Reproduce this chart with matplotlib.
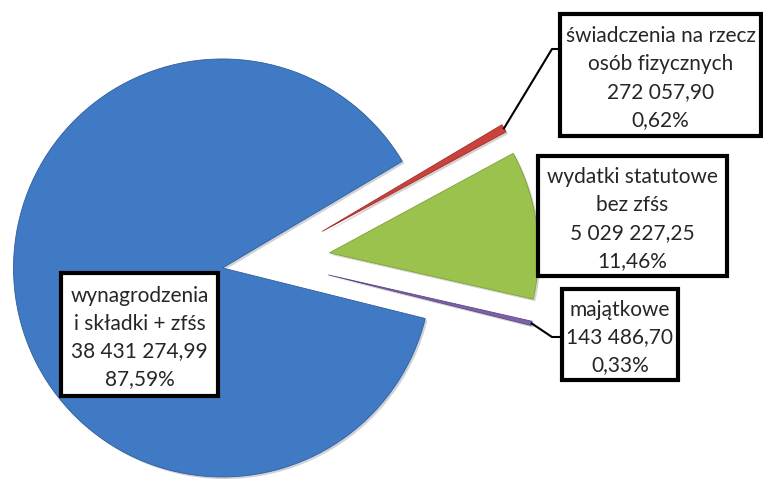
import math
import matplotlib
matplotlib.use("Agg")
import matplotlib.pyplot as plt
import matplotlib.patheffects as pe
from matplotlib.patches import Rectangle

# ── dane ─────────────────────────────────────────────────────────────────────
categories = ["majątkowe", "wydatki statutowe\nbez zfśs",
              "świadczenia na rzecz\nosób fizycznych",
              "wynagrodzenia\ni składki + zfśs"]
values = [143486.70, 5029227.25, 272057.90, 38431274.99]
colors = ["#7E62A8", "#9BC24C", "#C9423B", "#4079C4"]
edges = ["#5E4685", "#7F9F3A", "#9E2F2A", "#2F5E9C"]

# ── układ (współrzędne w pikselach, y od góry) ───────────────────────────────
W, H = 763, 481
CX, CY = 270, 262
RADIUS = 209
EXPLODE = [60, 60, 60, 48]
START = -14.0

def iy(y):
    return H - y

def fmt_num(v):
    return f"{v:,.2f}".replace(",", " ").replace(".", ",")

total = sum(values)
labels = [f"{c}\n{fmt_num(v)}\n{v / total * 100:.2f}%".replace(".", ",")
          for c, v in zip(categories, values)]

plt.rcParams["font.family"] = ["Lato", "DejaVu Sans"]
fig = plt.figure(figsize=(W / 100, H / 100), dpi=100)
ax = fig.add_axes([0, 0, 1, 1])

wedges, _ = ax.pie(values, colors=colors, explode=EXPLODE, radius=RADIUS,
                   center=(CX, iy(CY)), startangle=START, counterclock=True,
                   wedgeprops=dict(linewidth=0.6))
for w, ec in zip(wedges, edges):
    w.set_edgecolor(ec)
    w.set_path_effects([pe.SimplePatchShadow(offset=(1.5, -1.5), alpha=0.2),
                        pe.Normal()])

ax.set_xlim(0, W)
ax.set_ylim(0, H)
ax.set_aspect("auto")
ax.axis("off")

def tip(i):
    # zewnętrzny koniec wycinka (środek łuku)
    w = wedges[i]
    tm = math.radians((w.theta1 + w.theta2) / 2)
    cx, cy = w.center
    return cx + w.r * math.cos(tm), cy + w.r * math.sin(tm)

# linie odniesienia
tx, ty = tip(2)
ax.plot([tx, 552, 560], [ty, iy(50), iy(50)], color="black", lw=1.5, zorder=5)
tx, ty = tip(0)
ax.plot([tx, 552, 562], [ty, iy(338), iy(338)], color="black", lw=1.5, zorder=5)

# ramki z etykietami: (x0, y0, x1, y1)
boxes = [(562, 290, 678, 381), (538, 157, 727, 277),
         (560, 15, 761, 137), (61, 274, 218, 397)]
for lab, (x0, y0, x1, y1) in zip(labels, boxes):
    ax.add_patch(Rectangle((x0, iy(y1)), x1 - x0, y1 - y0, facecolor="white",
                           edgecolor="black", lw=3, zorder=6))
    ax.text((x0 + x1) / 2, iy((y0 + y1) / 2 + 2), lab, ha="center",
            va="center", fontsize=15, linespacing=1.5, color="#262626",
            zorder=7)

fig.savefig("out.png", dpi=100)
